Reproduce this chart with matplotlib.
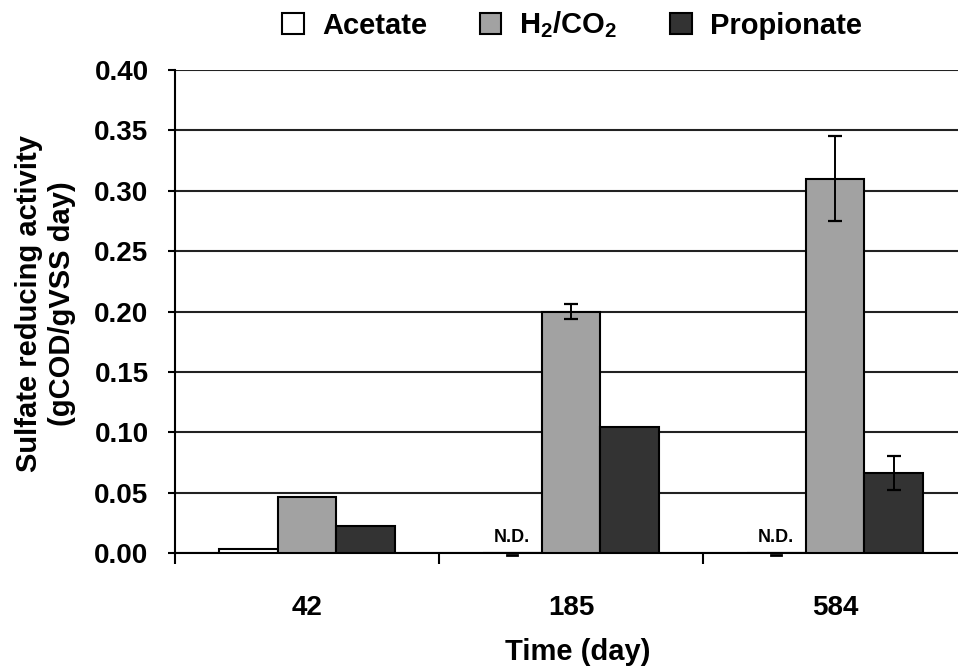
"""Sulfate reducing activity bar chart."""

import matplotlib

matplotlib.use("Agg")
import matplotlib.pyplot as plt
import numpy as np

plt.rcParams["font.family"] = ["Liberation Sans", "DejaVu Sans"]
plt.rcParams["font.weight"] = "bold"
plt.rcParams["axes.labelweight"] = "bold"
plt.rcParams["mathtext.fontset"] = "custom"
plt.rcParams["mathtext.rm"] = "Liberation Sans:bold"
plt.rcParams["mathtext.bf"] = "Liberation Sans:bold"

DAYS = ["42", "185", "584"]
SERIES = ["Acetate", "H$_2$/CO$_2$", "Propionate"]
ACETATE = [0.003, 0.0, 0.0]
ACETATE_ERR = [0.0, 0.0, 0.0]
H2CO2 = [0.046, 0.200, 0.310]
H2CO2_ERR = [0.0, 0.006, 0.035]
PROPIONATE = [0.022, 0.104, 0.066]
PROPIONATE_ERR = [0.0, 0.0, 0.014]
ND_MASK = [False, True, True]

COLORS = ["white", "#a2a2a2", "#333333"]
YTICKS = [0.00, 0.05, 0.10, 0.15, 0.20, 0.25, 0.30, 0.35, 0.40]
FS_TICK = 20
FS_LABEL = 21


def make_plot() -> None:
    fig = plt.figure(figsize=(9.58, 6.69), dpi=100)
    ax = fig.add_axes([175 / 958, 1 - 553 / 669, 783 / 958, 483 / 669])

    x = np.arange(len(DAYS))
    width = 0.223
    values = [ACETATE, H2CO2, PROPIONATE]
    errors = [ACETATE_ERR, H2CO2_ERR, PROPIONATE_ERR]
    for i, (vals, errs) in enumerate(zip(values, errors)):
        pos = x + (i - 1) * width
        ax.bar(
            pos,
            vals,
            width=width,
            color=COLORS[i],
            edgecolor="black",
            linewidth=1.5,
            label=SERIES[i],
            zorder=3,
        )
        show = [e > 0 for e in errs]
        ax.errorbar(
            pos[show],
            np.array(vals)[show],
            yerr=np.array(errs)[show],
            fmt="none",
            ecolor="black",
            elinewidth=1.4,
            capsize=5,
            capthick=1.6,
            zorder=4,
        )

    # not-detected acetate markers
    for xi, nd in zip(x, ND_MASK):
        if nd:
            ax.text(
                xi - width,
                0.013,
                "N.D.",
                fontsize=13,
                ha="center",
                va="center",
                zorder=5,
            )
            ax.plot(
                [xi - width - 0.02, xi - width + 0.02],
                [-0.0015, -0.0015],
                color="black",
                linewidth=2,
                clip_on=False,
                zorder=5,
            )

    ax.set_xlim(-0.5, -0.5 + 783 / 264)
    ax.set_ylim(0, 0.40)
    ax.set_yticks(YTICKS)
    ax.set_yticklabels([f"{t:.2f}" for t in YTICKS])
    ax.yaxis.grid(True, color="#222222", linewidth=1.5, zorder=0)
    ax.set_axisbelow(True)

    ax.set_xticks(x)
    ax.set_xticklabels(DAYS)
    ax.set_xticks([-0.5, 0.5, 1.5], minor=True)
    ax.tick_params(axis="x", which="major", length=0, pad=30, labelsize=FS_TICK)
    ax.tick_params(axis="x", which="minor", length=8, width=1.5, direction="out")
    ax.tick_params(axis="y", length=5, width=1.5, direction="out", labelsize=FS_TICK, pad=14)

    for side in ["top", "right"]:
        ax.spines[side].set_visible(False)
    ax.spines["left"].set_linewidth(1.5)
    ax.spines["bottom"].set_linewidth(1.5)

    ax.set_xlabel("Time (day)", fontsize=FS_LABEL)
    ax.xaxis.set_label_coords(0.515, -0.175)
    ax.set_ylabel(
        "Sulfate reducing activity\n(gCOD/gVSS day)",
        fontsize=FS_LABEL,
        linespacing=1.2,
    )
    ax.yaxis.set_label_coords(-0.127, 0.516)

    fig.legend(
        loc="upper center",
        bbox_to_anchor=(0.597, 1.025),
        ncol=3,
        frameon=False,
        fontsize=FS_LABEL,
        handlelength=0.75,
        handleheight=0.75,
        handletextpad=0.62,
        columnspacing=1.8,
    )

    fig.savefig("out.png", dpi=100, facecolor="white")
    plt.close(fig)


if __name__ == "__main__":
    make_plot()
